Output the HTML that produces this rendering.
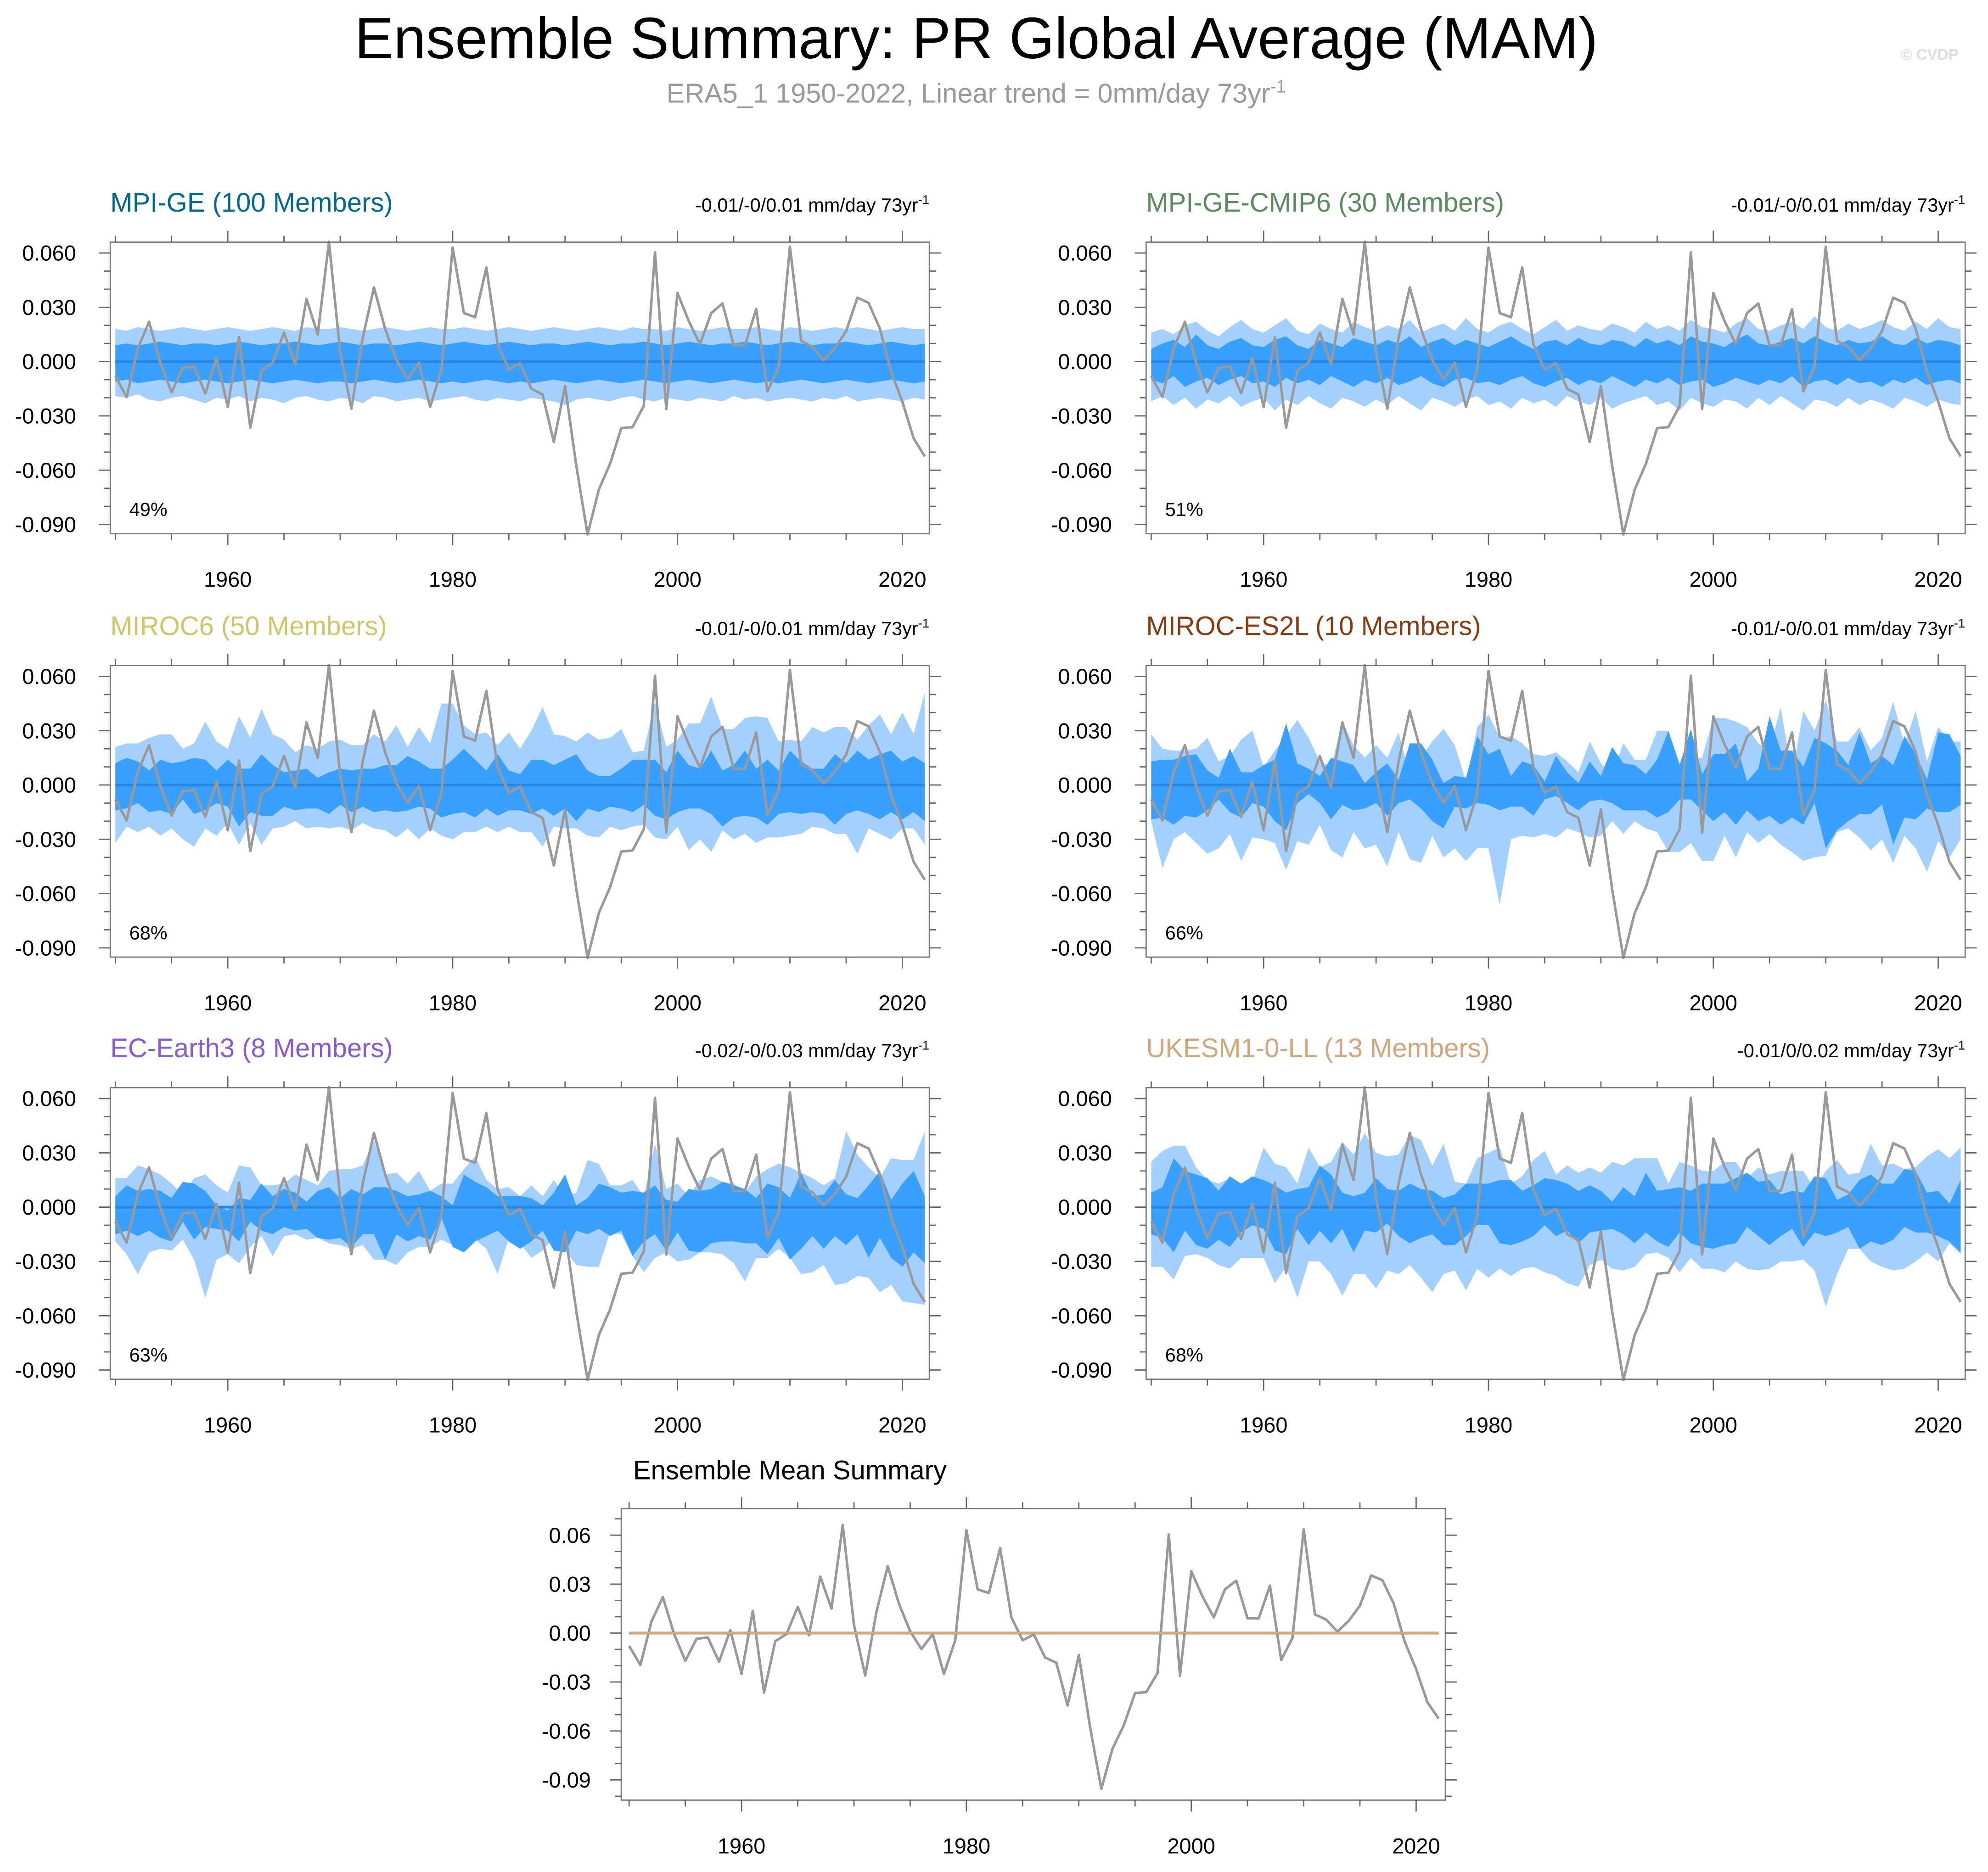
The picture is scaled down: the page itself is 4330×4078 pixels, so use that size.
<!DOCTYPE html>
<html><head><meta charset="utf-8"><title>Ensemble Summary</title>
<style>html,body{margin:0;padding:0;background:#fff}svg{display:block}text{font-family:"Liberation Sans",Arial,sans-serif}</style>
</head><body>
<svg id="chart" xmlns="http://www.w3.org/2000/svg" width="4330" height="4078" viewBox="0 0 1568 1476.7" preserveAspectRatio="none">
<rect x="0" y="0" width="1568" height="1476.7" fill="#fff"/>
<text x="770" y="46" font-size="46" text-anchor="middle" fill="#000">Ensemble Summary: PR Global Average (MAM)</text>
<text x="770" y="81" font-size="21.5" text-anchor="middle" fill="#999">ERA5_1 1950-2022, Linear trend = 0mm/day 73yr<tspan dy="-8" font-size="14">-1</tspan></text>
<text x="1522" y="47" font-size="12" font-weight="bold" text-anchor="middle" fill="#ddd">© CVDP</text>
<text x="623" y="1167" font-size="21" text-anchor="middle" fill="#000">Ensemble Mean Summary</text>
</svg>
<script>
const firstYear = 1950;
const obsSeries = [-0.0079,-0.0196,0.0073,0.022,-0.0006,-0.017,-0.0035,-0.0027,-0.0176,0.0018,
-0.025,0.0135,-0.0365,-0.005,-0.0006,0.016,-0.0014,0.0346,0.015,0.0662,
0.005,-0.026,0.013,0.041,0.018,0.001,-0.0098,-0.0006,-0.025,-0.0045,
0.063,0.0268,0.0245,0.052,0.0096,-0.0044,-0.0009,-0.015,-0.0182,-0.0444,
-0.0135,-0.0576,-0.0955,-0.0708,-0.0565,-0.0368,-0.0362,-0.0245,0.0604,-0.0262,
0.0379,0.0224,0.0096,0.0268,0.0321,0.009,0.009,0.029,-0.0165,-0.003,
0.0635,0.0114,0.0082,0.0009,0.0074,0.0168,0.0353,0.0324,0.0182,-0.0056,
-0.0221,-0.0424,-0.0524];
// band values in units of 0.001 mm/day
const mpiOuter = [18,17,19,18,17,18,19,18,17,18,19,18,17,18,19,18,17,19,18,18,19,18,17,18,19,18,17,18,19,18,18,19,18,17,18,19,18,17,18,19,18,17,18,19,18,17,19,18,18,17,19,18,17,18,19,18,18,19,18,17,19,18,17,18,19,18,19,18,17,18,19,18,18];
const mpiInner = [9,10,9,10,11,10,9,10,10,9,10,11,10,9,10,10,11,10,9,10,11,10,9,10,10,9,10,11,10,9,10,11,10,9,10,11,10,9,10,10,9,10,11,10,9,10,10,11,10,9,10,11,10,9,10,10,11,10,9,10,11,10,9,10,10,11,10,9,10,11,10,9,10];
const mpiInnerLow = [-11,-10,-12,-11,-10,-11,-12,-11,-10,-11,-12,-11,-10,-11,-12,-11,-10,-11,-12,-11,-11,-12,-11,-10,-11,-12,-11,-10,-11,-12,-11,-12,-11,-10,-11,-12,-11,-12,-11,-10,-11,-12,-11,-10,-11,-12,-11,-10,-11,-12,-11,-10,-11,-12,-11,-10,-11,-12,-11,-12,-11,-10,-11,-12,-11,-10,-11,-12,-11,-10,-11,-12,-11];
const mpiOuterLow = [-19,-20,-18,-21,-22,-20,-19,-21,-23,-20,-21,-19,-22,-20,-21,-23,-20,-19,-21,-22,-20,-21,-23,-19,-20,-22,-21,-20,-22,-21,-20,-19,-21,-22,-20,-21,-22,-20,-21,-22,-24,-21,-20,-21,-22,-20,-19,-21,-22,-20,-21,-22,-20,-21,-22,-19,-21,-20,-22,-21,-20,-21,-22,-20,-21,-19,-22,-21,-20,-21,-22,-20,-21];
const cmip6Outer = [16,18,15,20,22,17,14,19,23,18,16,20,24,17,15,21,18,16,22,19,17,20,18,23,16,19,21,17,24,18,16,20,22,18,15,19,23,17,20,18,17,21,19,16,22,18,20,17,23,19,18,16,21,24,18,17,20,22,18,25,19,17,21,18,20,23,19,17,22,18,24,19,18];
const cmip6Inner = [7,10,12,8,15,9,7,11,13,9,8,12,14,9,7,12,10,8,13,11,9,12,10,14,8,11,13,9,12,10,8,11,14,10,7,11,12,9,13,10,9,12,11,8,13,10,12,9,14,11,10,8,12,15,10,9,11,13,10,14,11,9,12,10,11,14,10,9,13,10,12,11,9];
const cmip6InnerLow = [-10,-12,-8,-14,-11,-9,-13,-10,-8,-12,-11,-14,-9,-12,-10,-13,-8,-11,-14,-10,-12,-9,-13,-11,-8,-12,-14,-10,-9,-12,-11,-13,-10,-8,-12,-14,-11,-9,-13,-10,-12,-8,-11,-14,-10,-12,-9,-13,-11,-10,-14,-12,-9,-11,-13,-10,-12,-8,-14,-11,-10,-13,-9,-12,-11,-14,-10,-12,-9,-13,-11,-10,-12];
const cmip6OuterLow = [-22,-19,-24,-20,-26,-21,-23,-19,-25,-22,-20,-27,-21,-24,-19,-23,-26,-20,-22,-25,-21,-24,-19,-23,-27,-20,-22,-25,-21,-19,-24,-22,-26,-20,-23,-21,-25,-19,-22,-24,-20,-26,-23,-21,-19,-24,-22,-27,-20,-23,-25,-21,-22,-26,-20,-24,-19,-23,-27,-21,-22,-25,-20,-24,-21,-23,-26,-20,-22,-25,-21,-23,-24];
const miroc6Outer = [21,23,23,26,28,28,20,23,35,24,20,38,26,42,28,25,18,22,20,24,25,22,22,28,24,33,21,32,23,45,45,33,28,29,22,29,20,30,43,28,27,24,29,25,26,31,18,19,46,21,25,34,34,49,31,31,37,38,37,24,25,24,32,29,32,32,25,33,39,28,40,28,51];
const miroc6Inner = [12,15,13,8,14,12,13,15,14,8,14,9,9,17,11,7,8,9,4,7,9,8,9,9,11,11,16,13,9,9,14,20,14,8,17,8,6,14,14,11,14,17,8,5,5,9,14,14,14,7,19,11,9,19,8,11,19,9,14,8,19,13,9,9,17,12,19,14,17,19,13,16,12];
const miroc6InnerLow = [-14,-13,-10,-15,-14,-16,-8,-16,-14,-10,-12,-23,-15,-17,-17,-12,-14,-13,-13,-16,-11,-15,-12,-15,-14,-15,-14,-12,-13,-18,-16,-15,-18,-13,-17,-14,-14,-16,-13,-17,-13,-20,-13,-15,-12,-13,-15,-11,-17,-19,-15,-13,-13,-16,-23,-18,-17,-18,-22,-16,-15,-16,-15,-16,-22,-16,-14,-16,-19,-15,-19,-15,-20];
const miroc6OuterLow = [-32,-23,-26,-23,-28,-24,-30,-34,-24,-28,-21,-33,-21,-33,-24,-23,-20,-24,-23,-24,-23,-25,-21,-24,-25,-29,-24,-30,-24,-28,-30,-26,-26,-23,-26,-23,-26,-26,-34,-23,-24,-24,-28,-29,-23,-25,-23,-22,-29,-30,-23,-36,-30,-37,-25,-30,-27,-32,-29,-29,-28,-27,-23,-24,-27,-27,-38,-24,-27,-30,-24,-24,-33];
const es2lOuter = [28,20,19,19,20,26,13,16,25,30,10,19,27,36,26,13,10,35,22,15,22,15,29,5,15,24,31,22,2,32,39,26,27,23,17,16,18,13,7,24,12,6,23,14,14,30,30,12,15,15,37,37,35,32,23,20,43,5,41,30,47,24,24,32,19,26,46,22,41,13,32,24,24];
const es2lInner = [13,14,14,16,17,8,4,20,7,7,11,14,34,12,9,5,15,13,11,1,7,12,3,23,23,14,1,5,4,27,17,20,5,13,11,2,16,7,1,13,5,21,12,11,6,14,30,11,31,6,17,17,23,2,9,38,19,19,10,26,23,19,11,29,12,16,11,27,17,3,29,28,16];
const es2lInnerLow = [-19,-18,-22,-17,-18,-14,-8,-15,-18,-10,-12,-20,-25,-10,-5,-10,-19,-11,-14,-13,-10,-17,-10,-8,-13,-20,-24,-12,-13,-10,-11,-14,-12,-12,-17,-8,-6,-10,-14,-9,-8,-10,-14,-14,-14,-18,-15,-8,-8,-14,-20,-15,-22,-14,-20,-17,-22,-18,-22,-10,-35,-25,-20,-16,-16,-11,-33,-18,-19,-13,-15,-15,-11];
const es2lOuterLow = [-20,-46,-30,-26,-32,-38,-35,-27,-42,-29,-30,-32,-47,-31,-33,-22,-36,-40,-26,-35,-33,-45,-26,-41,-43,-28,-40,-35,-42,-35,-35,-66,-30,-28,-29,-27,-29,-24,-26,-29,-28,-20,-27,-20,-24,-26,-37,-37,-32,-42,-42,-28,-40,-26,-32,-27,-33,-37,-42,-40,-39,-26,-24,-29,-36,-30,-43,-28,-35,-48,-31,-40,-30];
const ecOuter = [16,16,23,21,18,13,7,16,18,12,8,23,22,12,12,13,18,15,12,20,21,21,23,37,18,19,13,20,9,13,13,21,28,15,10,11,6,12,6,15,6,8,26,24,12,12,15,6,35,10,13,6,15,17,14,13,8,17,21,24,22,19,16,12,16,42,29,22,16,27,26,26,42];
const ecInner = [6,12,9,10,9,5,14,13,9,1,-2,5,4,13,6,10,8,3,9,11,5,10,7,11,11,9,6,7,9,6,1,18,14,11,6,6,6,5,1,8,18,1,5,13,11,8,9,8,12,4,3,10,9,10,14,12,10,5,13,11,5,19,6,7,15,7,5,12,20,4,13,20,6];
const ecInnerLow = [-15,-13,-16,-13,-17,-19,-8,-18,-11,-12,-13,-19,-8,-13,-15,-11,-13,-12,-17,-18,-17,-22,-15,-15,-29,-15,-19,-16,-18,-6,-22,-25,-19,-16,-13,-19,-23,-19,-13,-24,-25,-13,-15,-12,-16,-13,-27,-19,-15,-24,-14,-24,-25,-20,-19,-19,-20,-20,-26,-17,-29,-23,-16,-23,-16,-21,-15,-28,-17,-28,-33,-25,-31];
const ecOuterLow = [-19,-26,-37,-25,-23,-24,-18,-29,-50,-29,-26,-31,-22,-16,-27,-16,-15,-18,-17,-20,-21,-23,-21,-29,-29,-32,-25,-22,-22,-18,-21,-18,-18,-23,-37,-17,-20,-28,-24,-17,-24,-32,-33,-33,-14,-15,-27,-36,-28,-25,-30,-29,-25,-25,-26,-31,-41,-28,-28,-23,-28,-37,-36,-32,-43,-42,-38,-39,-47,-43,-52,-53,-54];
const ukOuter = [25,31,34,34,22,15,13,16,10,14,33,24,22,13,33,22,25,36,29,41,30,28,29,40,37,23,35,14,13,27,30,33,13,17,26,31,18,23,19,22,19,25,23,27,27,27,13,25,23,20,20,25,25,16,22,18,20,20,20,10,20,26,18,19,35,23,24,21,22,28,32,27,33];
const ukInner = [8,11,27,20,18,16,9,17,13,17,15,12,8,10,11,23,18,8,6,8,16,10,9,13,10,9,5,7,13,13,13,15,15,9,12,16,15,13,9,12,9,3,11,6,19,9,10,11,9,13,13,13,16,19,14,15,7,9,8,17,16,4,7,15,18,13,13,21,20,8,9,2,15];
const ukInnerLow = [-15,-17,-25,-13,-21,-23,-18,-22,-14,-10,-12,-24,-26,-12,-21,-13,-20,-12,-25,-13,-14,-9,-16,-20,-17,-15,-21,-21,-16,-10,-10,-20,-21,-19,-16,-10,-16,-13,-20,-14,-13,-12,-15,-20,-14,-19,-22,-14,-20,-22,-23,-21,-20,-11,-16,-21,-16,-12,-22,-14,-16,-14,-11,-23,-19,-21,-18,-11,-14,-14,-16,-19,-25];
const ukOuterLow = [-33,-33,-40,-27,-26,-28,-32,-34,-28,-28,-28,-42,-33,-50,-30,-30,-37,-49,-37,-37,-45,-35,-37,-32,-39,-47,-37,-35,-46,-34,-39,-34,-38,-34,-33,-36,-38,-42,-44,-32,-29,-34,-35,-33,-26,-25,-28,-36,-28,-34,-34,-36,-30,-34,-35,-34,-30,-30,-29,-35,-55,-37,-23,-23,-30,-33,-35,-34,-30,-25,-30,-20,-26];
const modelNames = ["MPI-GE (100 Members)","MPI-GE-CMIP6 (30 Members)","MIROC6 (50 Members)","MIROC-ES2L (10 Members)","EC-Earth3 (8 Members)","UKESM1-0-LL (13 Members)"];
const trendLabels = ["-0.01/-0/0.01","-0.01/-0/0.01","-0.01/-0/0.01","-0.01/-0/0.01","-0.02/-0/0.03","-0.01/0/0.02"];
const percentLabels = ["49%","51%","68%","66%","63%","68%"];
const yTickValues = [0.06,0.03,0,-0.03,-0.06,-0.09];
const yTickLabels = ["0.060","0.030","0.000","-0.030","-0.060","-0.090"];
const meanTickLabels = ["0.06","0.03","0.00","-0.03","-0.06","-0.09"];
const xTickYears = [1960,1980,2000,2020];
const modelMeans = [0,0,0,0,0,0];

const NS = "http://www.w3.org/2000/svg";
const svg = document.getElementById("chart");
const colors = ["#00698f","#5b8a5e","#cfc66a","#8b3a10","#8a5bd0","#d2a67a"];
const bands = [[mpiOuter,mpiInner,mpiInnerLow,mpiOuterLow],[cmip6Outer,cmip6Inner,cmip6InnerLow,cmip6OuterLow],[miroc6Outer,miroc6Inner,miroc6InnerLow,miroc6OuterLow],[es2lOuter,es2lInner,es2lInnerLow,es2lOuterLow],[ecOuter,ecInner,ecInnerLow,ecOuterLow],[ukOuter,ukInner,ukInnerLow,ukOuterLow]];
function mk(tag, attrs, parent){const e=document.createElementNS(NS,tag);for(const k in attrs)e.setAttribute(k,attrs[k]);(parent||svg).appendChild(e);return e;}

function axes(g, L, T, W, H, xmin, xmax, ymin, ymax, labels, fs, labOff){
  const sx = v => L + (v - xmin) / (xmax - xmin) * W;
  const sy = v => T + (ymax - v) / (ymax - ymin) * H;
  for(let k=-10;k<=7;k++){const v=k*0.01;if(v<ymin||v>ymax)continue;const major=(k%3===0);const len=major?9:5;
    mk("line",{x1:L-len,x2:L,y1:sy(v),y2:sy(v),stroke:"#666","stroke-width":1},g);
    mk("line",{x1:L+W,x2:L+W+len,y1:sy(v),y2:sy(v),stroke:"#666","stroke-width":1},g);}
  for(let yr=1950;yr<=2020;yr+=5){const major=(yr%20===0);const len=major?9:5;
    mk("line",{x1:sx(yr),x2:sx(yr),y1:T+H,y2:T+H+len,stroke:"#666","stroke-width":1},g);
    mk("line",{x1:sx(yr),x2:sx(yr),y1:T-len,y2:T,stroke:"#666","stroke-width":1},g);}
  yTickValues.forEach((v,i)=>{const t=mk("text",{x:L-labOff,y:sy(v)+6,"font-size":fs,"text-anchor":"end",fill:"#000"},g);
    
    
    t.textContent=labels[i];});
  xTickYears.forEach(yr=>{const t=mk("text",{x:sx(yr),y:T+H+42,"font-size":fs,"text-anchor":"middle",fill:"#000"},g);
    
    
    t.textContent=yr;});
  return {sx,sy};
}
function obsLine(g,sx,sy){
  const pts=obsSeries.map((v,i)=>sx(firstYear+i).toFixed(2)+","+sy(v).toFixed(2)).join(" ");
  const p=mk("polyline",{points:pts,fill:"none",stroke:"#999","stroke-width":2,"stroke-linejoin":"round"},g);
  
  
}

const lefts=[87,904], tops=[191,525,858], W=646, H=230;
for(let m=0;m<6;m++){
  const L=lefts[m%2], T=tops[Math.floor(m/2)];
  const g=mk("g",{});
  
  
  const xmin=1949.55,xmax=2022.4,ymin=-0.0951,ymax=0.066;
  const sx=v=>L+(v-xmin)/(xmax-xmin)*W, sy=v=>T+(ymax-v)/(ymax-ymin)*H;
  const [ou,iu,il,ol]=bands[m];
  const poly=(up,lo)=>{const a=up.map((v,i)=>sx(firstYear+i).toFixed(2)+","+sy(v/1000).toFixed(2));
    const b=lo.map((v,i)=>sx(firstYear+i).toFixed(2)+","+sy(v/1000).toFixed(2)).reverse();return a.concat(b).join(" ");};
  const o=mk("polygon",{points:poly(ou,ol),fill:"#a3d0ff"},g);
  
  
  const inn=mk("polygon",{points:poly(iu,il),fill:"#3aa0ff"},g);
  
  
  const z=mk("line",{x1:sx(firstYear),x2:sx(firstYear+obsSeries.length-1),y1:sy(modelMeans[m]),y2:sy(modelMeans[m]),stroke:"#2a86e0","stroke-width":2.2},g);
  
  
  obsLine(g,sx,sy);
  const fr=mk("rect",{x:L,y:T,width:W,height:H,fill:"none",stroke:"#777","stroke-width":1},g);
  
  
  axes(g,L,T,W,H,xmin,xmax,ymin,ymax,yTickLabels,17,27);
  const t=mk("text",{x:L,y:T-24,"font-size":21,fill:colors[m]},g);
  
  
  t.textContent=modelNames[m];
  const r=mk("text",{x:L+W,y:T-24,"font-size":15,"text-anchor":"end",fill:"#000"},g);
  
  
  r.textContent=trendLabels[m]+" mm/day 73yr";
  const sup=mk("tspan",{dy:-6,"font-size":10},r);sup.textContent="-1";
  const pc=mk("text",{x:L+15,y:T+216,"font-size":15,fill:"#000"},g);
  
  
  pc.textContent=percentLabels[m];
}
{
  const L=490,T=1190,W2=650,H2=230,xmin=1949.3,xmax=2022.6,ymin=-0.1024,ymax=0.0763;
  const g=mk("g",{});
  
  
  const sx=v=>L+(v-xmin)/(xmax-xmin)*W2, sy=v=>T+(ymax-v)/(ymax-ymin)*H2;
  obsLine(g,sx,sy);
  modelMeans.forEach((v,i)=>{const l=mk("line",{x1:sx(firstYear),x2:sx(firstYear+obsSeries.length-1),y1:sy(v),y2:sy(v),stroke:colors[i],"stroke-width":2},g);
    
    });
  const fr=mk("rect",{x:L,y:T,width:W2,height:H2,fill:"none",stroke:"#777","stroke-width":1},g);
  
  
  axes(g,L,T,W2,H2,xmin,xmax,ymin,ymax,meanTickLabels,17,24);
}
</script>
</body></html>
